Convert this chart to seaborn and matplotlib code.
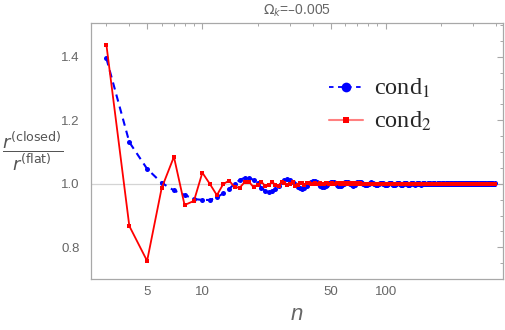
import numpy as np
import pandas as pd
import matplotlib.pyplot as plt
import seaborn as sns
from matplotlib.lines import Line2D
from matplotlib.ticker import NullFormatter

# values, n = 3 .. 391
blue_head = [
    1.395, 1.131, 1.047, 1.003, 0.979, 0.965, 0.952, 0.949, 0.949, 0.957,
    0.970, 0.984, 1.000, 1.012, 1.019, 1.019, 1.012, 1.001, 0.988, 0.978,
    0.974, 0.976, 0.983, 0.993, 1.004, 1.012, 1.014, 1.012, 1.006, 0.998,
    0.990, 0.986, 0.985, 0.988, 0.994, 1.001, 1.007, 1.010, 1.009, 1.005,
    0.999, 0.993, 0.990, 0.990, 0.992, 0.997, 1.002, 1.006, 1.007, 1.006,
    1.002, 0.997, 0.993, 0.992, 0.993, 0.996, 1.000, 1.004, 1.006, 1.005,
    1.002, 0.998, 0.995, 0.994, 0.995, 0.997, 1.001, 1.004, 1.005, 1.005,
]
blue_tail = [
    [1.0043, 1.0029, 1.0006, 0.9981, 0.9962, 0.9955, 0.9962, 0.9981, 1.0006, 1.0029, 1.0043],
    [1.0038, 1.0026, 1.0006, 0.9983, 0.9966, 0.9960, 0.9966, 0.9983, 1.0006, 1.0026, 1.0038],
    [1.0035, 1.0024, 1.0005, 0.9985, 0.9969, 0.9963, 0.9969, 0.9985, 1.0005, 1.0024, 1.0035],
    [1.0033, 1.0022, 1.0005, 0.9986, 0.9971, 0.9966, 0.9971, 0.9986, 1.0005, 1.0022, 1.0033],
    [1.0030, 1.0020, 1.0004, 0.9987, 0.9974, 0.9969, 0.9974, 0.9987, 1.0004, 1.0020, 1.0030],
    [1.0028, 1.0019, 1.0004, 0.9988, 0.9976, 0.9971, 0.9976, 0.9988, 1.0004, 1.0019, 1.0028],
    [1.0026, 1.0018, 1.0004, 0.9989, 0.9977, 0.9973, 0.9977, 0.9989, 1.0004, 1.0018, 1.0026],
    [1.0024, 1.0016, 1.0004, 0.9990, 0.9979, 0.9975, 0.9979, 0.9990, 1.0004, 1.0016, 1.0024],
    [1.0022, 1.0015, 1.0003, 0.9990, 0.9981, 0.9977, 0.9981, 0.9990, 1.0003, 1.0015, 1.0022],
    [1.0021, 1.0014, 1.0003, 0.9991, 0.9982, 0.9978, 0.9982, 0.9991, 1.0003, 1.0014, 1.0021],
    [1.0019, 1.0013, 1.0003, 0.9992, 0.9983, 0.9980, 0.9983, 0.9992, 1.0003, 1.0013, 1.0019],
    [1.0018, 1.0012, 1.0003, 0.9992, 0.9984, 0.9981, 0.9984, 0.9992, 1.0003, 1.0012, 1.0018],
    [1.0017, 1.0012, 1.0003, 0.9993, 0.9985, 0.9982, 0.9985, 0.9993, 1.0003, 1.0012, 1.0017],
    [1.0016, 1.0011, 1.0002, 0.9993, 0.9986, 0.9983, 0.9986, 0.9993, 1.0002, 1.0011, 1.0016],
    [1.0015, 1.0010, 1.0002, 0.9993, 0.9987, 0.9984, 0.9987, 0.9993, 1.0002, 1.0010, 1.0015],
    [1.0014, 1.0010, 1.0002, 0.9994, 0.9987, 0.9985, 0.9987, 0.9994, 1.0002, 1.0010, 1.0014],
    [1.0014, 1.0010, 1.0002, 0.9994, 0.9987, 0.9985, 0.9987, 0.9994, 1.0002, 1.0010, 1.0014],
    [1.0013, 1.0009, 1.0002, 0.9994, 0.9988, 0.9986, 0.9988, 0.9994, 1.0002, 1.0009, 1.0013],
    [1.0013, 1.0009, 1.0002, 0.9994, 0.9988, 0.9986, 0.9988, 0.9994, 1.0002, 1.0009, 1.0013],
    [1.0012, 1.0009, 1.0002, 0.9995, 0.9989, 0.9987, 0.9989, 0.9995, 1.0002, 1.0009, 1.0012],
    [1.0012, 1.0009, 1.0002, 0.9995, 0.9989, 0.9987, 0.9989, 0.9995, 1.0002, 1.0009, 1.0012],
    [1.0012, 1.0008, 1.0002, 0.9995, 0.9990, 0.9988, 0.9990, 0.9995, 1.0002, 1.0008, 1.0012],
    [1.0012, 1.0008, 1.0002, 0.9995, 0.9990, 0.9988, 0.9990, 0.9995, 1.0002, 1.0008, 1.0012],
    [1.0011, 1.0007, 1.0002, 0.9995, 0.9991, 0.9989, 0.9991, 0.9995, 1.0002, 1.0007, 1.0011],
    [1.0011, 1.0007, 1.0002, 0.9995, 0.9991, 0.9989, 0.9991, 0.9995, 1.0002, 1.0007, 1.0011],
    [1.0010, 1.0007, 1.0001, 0.9996, 0.9992, 0.9990, 0.9992, 0.9996, 1.0001, 1.0007, 1.0010],
    [1.0010, 1.0007, 1.0001, 0.9996, 0.9992, 0.9990, 0.9992, 0.9996, 1.0001, 1.0007, 1.0010],
    [1.0010, 1.0007, 1.0001, 0.9996, 0.9992, 0.9990, 0.9992, 0.9996, 1.0001, 1.0007, 1.0010],
    [1.0010, 1.0007, 1.0001, 0.9996, 0.9992, 0.9990, 0.9992, 0.9996, 1.0001, 1.0007, 1.0010],
]

red_head = [
    1.438, 0.867, 0.757, 0.986, 1.085, 0.933, 0.946, 1.035, 0.999, 0.964,
    0.999, 1.010, 0.989, 0.988, 1.005, 1.006, 0.989, 0.995, 1.006, 0.993,
    0.996, 1.006, 0.997, 0.994, 1.004, 1.002, 0.995, 0.999, 1.004, 0.992,
    0.997, 1.003, 1.001, 0.997, 1.001, 1.003, 0.998, 0.999, 1.002, 0.998,
    0.999, 1.002, 1.000, 0.998, 1.001, 1.002, 0.999, 0.999, 1.002, 1.000,
    0.998, 1.001, 1.001, 0.999, 0.999, 1.001, 1.001, 0.999, 1.000, 1.001,
    1.000, 0.999, 1.001, 1.001, 0.999, 1.000, 1.001, 1.000, 0.999, 1.001,
]
red_tail = [
    [1.0008, 0.9995, 0.9997, 1.0007, 1.0001, 0.9994, 1.0003, 1.0006, 0.9996, 0.9999, 1.0005],
    [1.0007, 0.9996, 0.9997, 1.0006, 1.0001, 0.9995, 1.0003, 1.0005, 0.9996, 0.9999, 1.0005],
    [1.0006, 0.9996, 0.9998, 1.0005, 1.0001, 0.9995, 1.0003, 1.0005, 0.9997, 0.9999, 1.0004],
    [1.0006, 0.9996, 0.9998, 1.0005, 1.0001, 0.9996, 1.0002, 1.0004, 0.9997, 0.9999, 1.0004],
    [1.0005, 0.9997, 0.9998, 1.0004, 1.0001, 0.9996, 1.0002, 1.0004, 0.9997, 0.9999, 1.0004],
    [1.0005, 0.9997, 0.9998, 1.0004, 1.0001, 0.9996, 1.0002, 1.0004, 0.9997, 0.9999, 1.0003],
    [1.0004, 0.9997, 0.9998, 1.0004, 1.0001, 0.9997, 1.0002, 1.0003, 0.9998, 0.9999, 1.0003],
    [1.0004, 0.9997, 0.9998, 1.0003, 1.0001, 0.9997, 1.0002, 1.0003, 0.9998, 0.9999, 1.0003],
    [1.0004, 0.9997, 0.9999, 1.0003, 1.0001, 0.9997, 1.0002, 1.0003, 0.9998, 0.9999, 1.0003],
    [1.0003, 0.9998, 0.9999, 1.0003, 1.0001, 0.9997, 1.0001, 1.0003, 0.9998, 0.9999, 1.0002],
    [1.0003, 0.9998, 0.9999, 1.0003, 1.0001, 0.9998, 1.0001, 1.0002, 0.9998, 1.0000, 1.0002],
    [1.0003, 0.9998, 0.9999, 1.0002, 1.0001, 0.9998, 1.0001, 1.0002, 0.9998, 1.0000, 1.0002],
    [1.0003, 0.9998, 0.9999, 1.0002, 1.0001, 0.9998, 1.0001, 1.0002, 0.9998, 1.0000, 1.0002],
    [1.0002, 0.9998, 0.9999, 1.0002, 1.0001, 0.9998, 1.0001, 1.0002, 0.9999, 1.0000, 1.0002],
    [1.0002, 0.9998, 0.9999, 1.0002, 1.0001, 0.9998, 1.0001, 1.0002, 0.9999, 1.0000, 1.0002],
    [1.0002, 0.9998, 0.9999, 1.0002, 1.0000, 0.9998, 1.0001, 1.0002, 0.9999, 1.0000, 1.0002],
    [1.0002, 0.9999, 0.9999, 1.0002, 1.0000, 0.9999, 1.0001, 1.0001, 0.9999, 1.0000, 1.0001],
    [1.0002, 0.9999, 0.9999, 1.0002, 1.0000, 0.9999, 1.0001, 1.0001, 0.9999, 1.0000, 1.0001],
    [1.0002, 0.9999, 0.9999, 1.0001, 1.0000, 0.9999, 1.0001, 1.0001, 0.9999, 1.0000, 1.0001],
    [1.0001, 0.9999, 0.9999, 1.0001, 1.0000, 0.9999, 1.0001, 1.0001, 0.9999, 1.0000, 1.0001],
    [1.0001, 0.9999, 0.9999, 1.0001, 1.0000, 0.9999, 1.0001, 1.0001, 0.9999, 1.0000, 1.0001],
    [1.0001, 0.9999, 1.0000, 1.0001, 1.0000, 0.9999, 1.0001, 1.0001, 0.9999, 1.0000, 1.0001],
    [1.0001, 0.9999, 1.0000, 1.0001, 1.0000, 0.9999, 1.0001, 1.0001, 0.9999, 1.0000, 1.0001],
    [1.0001, 0.9999, 1.0000, 1.0001, 1.0000, 0.9999, 1.0000, 1.0001, 0.9999, 1.0000, 1.0001],
    [1.0001, 0.9999, 1.0000, 1.0001, 1.0000, 0.9999, 1.0000, 1.0001, 0.9999, 1.0000, 1.0001],
    [1.0001, 0.9999, 1.0000, 1.0001, 1.0000, 0.9999, 1.0000, 1.0001, 1.0000, 1.0000, 1.0001],
    [1.0001, 0.9999, 1.0000, 1.0001, 1.0000, 0.9999, 1.0000, 1.0001, 1.0000, 1.0000, 1.0001],
    [1.0001, 0.9999, 1.0000, 1.0001, 1.0000, 1.0000, 1.0000, 1.0001, 1.0000, 1.0000, 1.0001],
    [1.0001, 0.9999, 1.0000, 1.0001, 1.0000, 1.0000, 1.0000, 1.0001, 1.0000, 1.0000, 1.0001],
]

x_ticks = [5, 10, 50, 100]
x_minor = [3, 4, 6, 7, 8, 9, 20, 30, 40, 60, 70, 80, 90, 200, 300, 400]
y_ticks = [0.8, 1.0, 1.2, 1.4]

cond1 = blue_head + [v for row in blue_tail for v in row]
cond2 = red_head + [v for row in red_tail for v in row]
n = np.arange(3, 3 + len(cond1))

df = pd.DataFrame({"n": n, "cond1": cond1, "cond2": cond2})

sns.set_theme(style="white")
plt.rcParams["font.family"] = ["Liberation Sans", "DejaVu Sans"]

fig = plt.figure(figsize=(5.06, 3.30), dpi=100)
ax = fig.add_axes([0.179, 0.1545, 0.8155, 0.7745])

ax.axhline(1.0, color="#d4d4d4", lw=0.9, zorder=0)

sns.lineplot(data=df, x="n", y="cond1", ax=ax, color="#0000ff", lw=1.5,
             linestyle=(0, (3.5, 2.5)), marker="o", markersize=3.6,
             markeredgewidth=0, estimator=None, errorbar=None)
sns.lineplot(data=df, x="n", y="cond2", ax=ax, color="#ff0000", lw=1.3,
             marker="s", markersize=2.6, markeredgewidth=0,
             estimator=None, errorbar=None)

ax.set_xscale("log")
ax.set_xlim(2.46, 436)
ax.set_ylim(0.70, 1.505)
ax.set_xticks(x_ticks)
ax.set_xticklabels([str(t) for t in x_ticks])
ax.set_xticks(x_minor, minor=True)
ax.xaxis.set_minor_formatter(NullFormatter())
ax.set_yticks(y_ticks)
ax.set_yticklabels([f"{t:.1f}" for t in y_ticks])
ax.set_yticks(np.arange(0.70, 1.51, 0.05), minor=True)

for s in ax.spines.values():
    s.set_color("#a8a8a8")
    s.set_linewidth(0.9)
ax.tick_params(which="both", direction="in", top=True, right=True,
               color="#a8a8a8", labelcolor="#666666", labelsize=9.5)
ax.tick_params(which="major", length=4, width=0.8)
ax.tick_params(which="minor", length=2.5, width=0.7)
ax.tick_params(axis="y", pad=8)
ax.tick_params(axis="x", pad=5)

ax.set_title(r"$\Omega_k$=–0.005", fontsize=10, color="#666666", pad=6)
ax.set_xlabel("n", fontsize=16, style="italic", color="#666666", labelpad=4)
ax.set_ylabel("")
fig.text(0.064, 0.542, r"$\dfrac{r^{\mathsf{(closed)}}}{r^{\mathsf{(flat)}}}$",
         fontsize=13, color="#555555", ha="center", va="center",
         math_fontfamily="dejavusans")

handles = [
    Line2D([], [], color="#0000ff", lw=1.3, linestyle=(0, (2.5, 2.5)),
           marker="o", markersize=7, markeredgewidth=0),
    Line2D([], [], color="#ff8080", lw=1.5, marker="s", markersize=5,
           markerfacecolor="#ff0000", markeredgewidth=0),
]
leg = ax.legend(handles, [r"cond$_1$", r"cond$_2$"], loc="upper left",
                bbox_to_anchor=(0.578, 0.79), frameon=False, borderpad=0,
                borderaxespad=0, handlelength=1.4, handletextpad=0.45,
                labelspacing=0.4,
                prop={"family": "Liberation Serif", "size": 17.5,
                      "math_fontfamily": "stix"})

fig.savefig("out.png", dpi=100)
